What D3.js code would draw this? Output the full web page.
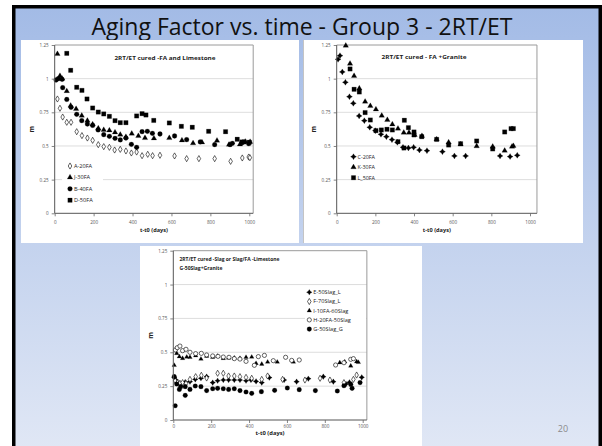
<!DOCTYPE html>
<html><head><meta charset="utf-8">
<script src="https://cdn.jsdelivr.net/npm/d3@7"></script>
<style>body{margin:0;background:#fff}svg{display:block}text{font-family:"Open Sans",sans-serif}</style>
</head><body><svg id="s" width="602" height="446"></svg>
<script>
// ---- shared axes ----
const dayTicks = [0, 200, 400, 600, 800, 1000];
const mTicks = [0, 0.25, 0.5, 0.75, 1, 1.25];

// ---- FA and Limestone: [t-t0 (days), m] ----
const a20FA = [[14,0.849],[27,0.78],[41,0.715],[62,0.676],[84,0.676],[113,0.606],[140,0.577],[168,0.559],[195,0.542],[224,0.51],[252,0.495],[281,0.49],[308,0.47],[337,0.475],[366,0.463],[394,0.448],[421,0.455],[449,0.428],[478,0.438],[503,0.428],[541,0.431],[616,0.426],[678,0.406],[741,0.406],[822,0.406],[904,0.386],[964,0.411],[997,0.418],[1003,0.413]];
const j30FA = [[14,1.183],[27,1.02],[38,1.0],[62,0.908],[82,0.8],[110,0.775],[139,0.725],[168,0.688],[195,0.661],[224,0.631],[252,0.619],[281,0.616],[310,0.601],[337,0.584],[366,0.567],[396,0.592],[430,0.574],[464,0.559],[510,0.557],[589,0.559],[654,0.542],[711,0.52],[757,0.527],[834,0.54],[896,0.51],[952,0.512],[979,0.532],[1004,0.53]];
const b40FA = [[7,0.99],[19,1.0],[38,0.995],[41,0.933],[62,0.846],[84,0.787],[113,0.735],[139,0.688],[168,0.663],[195,0.653],[223,0.619],[252,0.584],[281,0.572],[310,0.557],[337,0.545],[366,0.559],[394,0.512],[421,0.49],[449,0.606],[476,0.609],[502,0.594],[541,0.589],[616,0.574],[678,0.547],[748,0.53],[822,0.51],[901,0.51],[913,0.52],[964,0.525],[997,0.517]];
const d50FA = [[62,1.188],[82,1.062],[113,0.936],[140,0.913],[166,0.849],[195,0.782],[224,0.752],[252,0.738],[281,0.72],[310,0.688],[337,0.673],[366,0.673],[421,0.723],[449,0.74],[469,0.73],[509,0.69],[589,0.671],[651,0.646],[707,0.639],[791,0.609],[878,0.606],[938,0.55],[962,0.53],[974,0.53],[1000,0.528]];

// ---- FA + Granite ----
const c20FA = [[7,1.144],[17,1.171],[29,1.05],[45,0.973],[66,0.866],[86,0.817],[116,0.723],[143,0.688],[171,0.639],[200,0.614],[229,0.587],[257,0.569],[286,0.547],[314,0.527],[343,0.49],[371,0.485],[398,0.49],[428,0.47],[467,0.465],[547,0.458],[609,0.426],[667,0.426],[845,0.426],[897,0.421],[934,0.431]];
const k30FA = [[47,1.245],[69,1.111],[90,1.02],[117,0.928],[147,0.829],[174,0.797],[203,0.772],[233,0.725],[262,0.693],[288,0.661],[317,0.629],[347,0.599],[374,0.599],[403,0.582],[441,0.574],[517,0.549],[579,0.527],[641,0.512],[724,0.498],[807,0.495],[869,0.465],[907,0.495],[914,0.5]];
const l50FA = [[69,1.072],[90,0.921],[117,0.901],[147,0.748],[174,0.693],[203,0.614],[231,0.619],[260,0.624],[288,0.619],[317,0.532],[348,0.485],[350,0.691],[371,0.636],[400,0.604],[400,0.582],[440,0.569],[517,0.549],[579,0.507],[641,0.517],[724,0.537],[807,0.478],[869,0.604],[902,0.629],[914,0.629]];

// ---- Slag or Slag/FA ----
const e50SlagL = [[5,0.315],[14,0.295],[32,0.27],[63,0.28],[88,0.283],[116,0.3],[146,0.308],[176,0.32],[208,0.276],[234,0.29],[264,0.295],[292,0.295],[322,0.295],[352,0.295],[384,0.29],[410,0.295],[437,0.285],[467,0.276],[507,0.313],[585,0.295],[651,0.283],[713,0.305],[792,0.32],[845,0.283],[912,0.266],[930,0.278],[995,0.315]];
const f70SlagL = [[10,0.29],[22,0.275],[35,0.271],[49,0.276],[67,0.27],[88,0.3],[118,0.32],[148,0.33],[176,0.31],[234,0.345],[264,0.345],[292,0.325],[322,0.325],[352,0.32],[384,0.315],[414,0.308],[467,0.3],[498,0.325],[577,0.3],[695,0.295],[775,0.308],[827,0.295],[901,0.276],[951,0.3],[968,0.332]];
const i10FA60Slag = [[5,0.404],[18,0.492],[32,0.468],[49,0.455],[71,0.465],[88,0.463],[118,0.475],[146,0.45],[176,0.472],[208,0.463],[234,0.472],[264,0.455],[292,0.458],[322,0.458],[352,0.455],[384,0.463],[414,0.465],[437,0.418],[467,0.413],[498,0.428],[549,0.428],[634,0.428],[879,0.423],[905,0.43],[937,0.399],[968,0.431],[977,0.426]];
const h20FA50Slag = [[11,0.517],[21,0.534],[35,0.546],[49,0.512],[67,0.522],[88,0.5],[118,0.49],[148,0.492],[176,0.48],[208,0.473],[236,0.47],[264,0.465],[294,0.463],[322,0.453],[352,0.45],[384,0.433],[428,0.404],[449,0.468],[481,0.477],[528,0.438],[593,0.463],[625,0.44],[665,0.443],[857,0.406],[901,0.423],[937,0.448],[951,0.453]];
const g50SlagG = [[5,0.32],[10,0.105],[18,0.266],[32,0.226],[39,0.246],[63,0.246],[63,0.182],[88,0.226],[116,0.251],[146,0.246],[176,0.217],[208,0.231],[234,0.234],[264,0.231],[292,0.226],[322,0.231],[352,0.217],[384,0.207],[414,0.197],[465,0.209],[535,0.219],[602,0.236],[665,0.224],[750,0.217],[866,0.214],[901,0.253],[937,0.263],[944,0.234],[986,0.276]];

const svg = d3.select("#s");
const defs = svg.append("defs");
const grad = defs.append("linearGradient").attr("id","bg").attr("x1",0).attr("y1",0).attr("x2",0).attr("y2",1);
grad.append("stop").attr("offset","0%").attr("stop-color","#a3bbe6");
grad.append("stop").attr("offset","100%").attr("stop-color","#e0e7f5");

// slide frame
svg.append("rect").attr("x",12).attr("y",5).attr("width",590).attr("height",446).attr("fill","#000");
svg.append("rect").attr("x",15.5).attr("y",8.5).attr("width",583).attr("height",440).attr("fill","url(#bg)");

svg.append("text").attr("x",302).attr("y",35).attr("text-anchor","middle")
  .attr("font-size",23).attr("fill","#111").attr("textLength",421).attr("lengthAdjust","spacingAndGlyphs")
  .text("Aging Factor vs. time - Group 3 - 2RT/ET");

svg.append("text").attr("x",563).attr("y",432).attr("text-anchor","middle")
  .attr("font-size",9).attr("fill","#8a8a8a").text("20");

// 4-point star marker
const star4 = {draw(ctx, size){
  const r = Math.sqrt(size)*0.75, i = r*0.38;
  ctx.moveTo(0,-r); ctx.lineTo(i,-i); ctx.lineTo(r,0); ctx.lineTo(i,i);
  ctx.lineTo(0,r); ctx.lineTo(-i,i); ctx.lineTo(-r,0); ctx.lineTo(-i,-i); ctx.closePath();
}};

function drawPanel(p){
  const g = svg.append("g");
  g.append("rect").attr("x",p.box[0]).attr("y",p.box[1]).attr("width",p.box[2]).attr("height",p.box[3]).attr("fill","#fff");
  if (p.leftEdge) g.append("line").attr("x1",p.box[0]+0.5).attr("x2",p.box[0]+0.5).attr("y1",p.box[1]).attr("y2",p.box[1]+p.box[3]).attr("stroke","#c4c4c4");
  const x = d3.scaleLinear().domain([0,1000]).range(p.xr);
  const y = d3.scaleLinear().domain([0,1.25]).range(p.yr);
  const xEnd = x(p.xMax);
  // gridlines
  g.selectAll(".grid").data(mTicks.filter(v=>v>0 && v<1.25)).join("line")
    .attr("x1",x(0)).attr("x2",xEnd).attr("y1",d=>y(d)).attr("y2",d=>y(d))
    .attr("stroke","#d9d9d9").attr("stroke-width",0.9);
  // plot frame
  g.append("path").attr("d",`M${x(0)},${y(1.25)}H${xEnd}V${y(0)}`).attr("fill","none").attr("stroke","#9a9a9a").attr("stroke-width",1);
  // legend box
  if (p.legBox) g.append("rect").attr("x",p.legBox[0]).attr("y",p.legBox[1]).attr("width",p.legBox[2]).attr("height",p.legBox[3]).attr("fill","#fff");
  // series
  p.series.forEach(s=>{
    const sym = d3.symbol().type(s.type).size(s.size);
    g.append("g").selectAll("path").data(s.data).join("path")
      .attr("transform",d=>`translate(${x(d[0])},${y(d[1])})`).attr("d",sym)
      .attr("fill",s.open?"#fff":"#000").attr("stroke","#000").attr("stroke-width",s.open?0.6:0.2);
  });
  // axes
  const ya = g.append("g").attr("transform",`translate(${x(0)},0)`)
    .call(d3.axisLeft(y).tickValues(mTicks).tickFormat(d=>String(d)).tickSize(3).tickPadding(3));
  const xa = g.append("g").attr("transform",`translate(0,${y(0)})`)
    .call(d3.axisBottom(x).tickValues(dayTicks).tickFormat(d=>String(d)).tickSize(3).tickPadding(p.xPad));
  [ya,xa].forEach(a=>{
    a.select(".domain").attr("stroke","#555").attr("stroke-width",1);
    a.selectAll(".tick line").attr("stroke","#666").attr("stroke-width",0.8);
    a.selectAll("text").attr("font-size",p.tickFs).attr("fill","#555").attr("font-family","'Open Sans',sans-serif");
  });
  xa.select(".domain").attr("d",`M${x(0)},0H${xEnd}`);
  ya.select(".domain").attr("d",`M0,${y(0)}V${y(1.25)}`);
  // axis titles
  g.append("text").attr("x",(x(0)+xEnd)/2).attr("y",y(0)+p.xtDy).attr("text-anchor","middle")
    .attr("font-size",p.axFs).attr("font-weight","bold").attr("fill","#222").text("t-t0 (days)");
  g.append("text").attr("transform",`translate(${x(0)+p.ytDx},${(y(0)+y(1.25))/2}) rotate(-90)`).attr("text-anchor","middle")
    .attr("font-size",p.axFs+1).attr("font-weight","bold").attr("fill","#222").text("m");
  // chart title lines
  p.title.forEach(t=>{
    g.append("text").attr("x",t.x).attr("y",t.y).attr("text-anchor",t.anchor)
      .attr("font-size",t.fs).attr("font-weight","bold").attr("fill","#222")
      .attr("textLength",t.len).attr("lengthAdjust","spacingAndGlyphs").text(t.text);
  });
  // legend
  p.series.forEach((s,i)=>{
    const ly = p.leg.y + i*p.leg.dy;
    g.append("path").attr("transform",`translate(${p.leg.x},${ly})`)
      .attr("d",d3.symbol().type(s.type).size(s.size))
      .attr("fill",s.open?"#fff":"#000").attr("stroke","#000").attr("stroke-width",s.open?0.6:0.2);
    g.append("text").attr("x",p.leg.x+4).attr("y",ly).attr("dy","0.35em")
      .attr("font-size",p.leg.fs).attr("fill","#222").text(s.name);
  });
}

drawPanel({
  box:[21,40,278,203], xr:[54.7,249.3], yr:[213.3,45], xMax:1020,
  tickFs:4.6, axFs:5.6, xtDy:19, ytDx:-21, xPad:4,
  title:[{text:"2RT/ET cured  -FA and Limestone",x:165,y:60,anchor:"middle",fs:5.2,len:101}],
  legBox:[62,160,41,46],
  leg:{x:70,y:166,dy:11.4,fs:5.6},
  series:[
    {name:"A-20FA",data:a20FA,type:d3.symbolDiamond,size:11,open:true},
    {name:"J-30FA",data:j30FA,type:d3.symbolTriangle,size:13,open:false},
    {name:"B-40FA",data:b40FA,type:d3.symbolCircle,size:18,open:false},
    {name:"D-50FA",data:d50FA,type:d3.symbolSquare,size:19,open:false}
  ]
});

drawPanel({
  box:[303,40,280,203], xr:[336.7,530], yr:[213.3,45], xMax:1036,
  tickFs:4.6, axFs:5.6, xtDy:19, ytDx:-21, xPad:4, leftEdge:true,
  title:[{text:"2RT/ET cured  - FA +Granite",x:424,y:58.5,anchor:"middle",fs:5.2,len:85}],
  leg:{x:353.5,y:156.7,dy:10.5,fs:5.4},
  series:[
    {name:"C-20FA",data:c20FA,type:star4,size:16,open:false},
    {name:"K-30FA",data:k30FA,type:d3.symbolTriangle,size:13,open:false},
    {name:"L_50FA",data:l50FA,type:d3.symbolSquare,size:19,open:false}
  ]
});

drawPanel({
  box:[140,246,282,205], xr:[173.3,362.7], yr:[420,250.7], xMax:1022,
  tickFs:4.6, axFs:5.8, xtDy:15, ytDx:-20, xPad:1.5,
  title:[
    {text:"2RT/ET cured  -Slag or Slag/FA -Limestone",x:179.5,y:261,anchor:"start",fs:5,len:100},
    {text:"G-50Slag+Granite",x:179.5,y:269.5,anchor:"start",fs:5,len:43}
  ],
  legBox:[305,286,61,48],
  leg:{x:309.3,y:292.3,dy:9.2,fs:5.6},
  series:[
    {name:"E-50Slag_L",data:e50SlagL,type:star4,size:14,open:false},
    {name:"F-70Slag_L",data:f70SlagL,type:d3.symbolDiamond,size:11,open:true},
    {name:"I-10FA-60Slag",data:i10FA60Slag,type:d3.symbolTriangle,size:9,open:false},
    {name:"H-20FA-50Slag",data:h20FA50Slag,type:d3.symbolCircle,size:14,open:true},
    {name:"G-50Slag_G",data:g50SlagG,type:d3.symbolCircle,size:17,open:false}
  ]
});
</script></body></html>
